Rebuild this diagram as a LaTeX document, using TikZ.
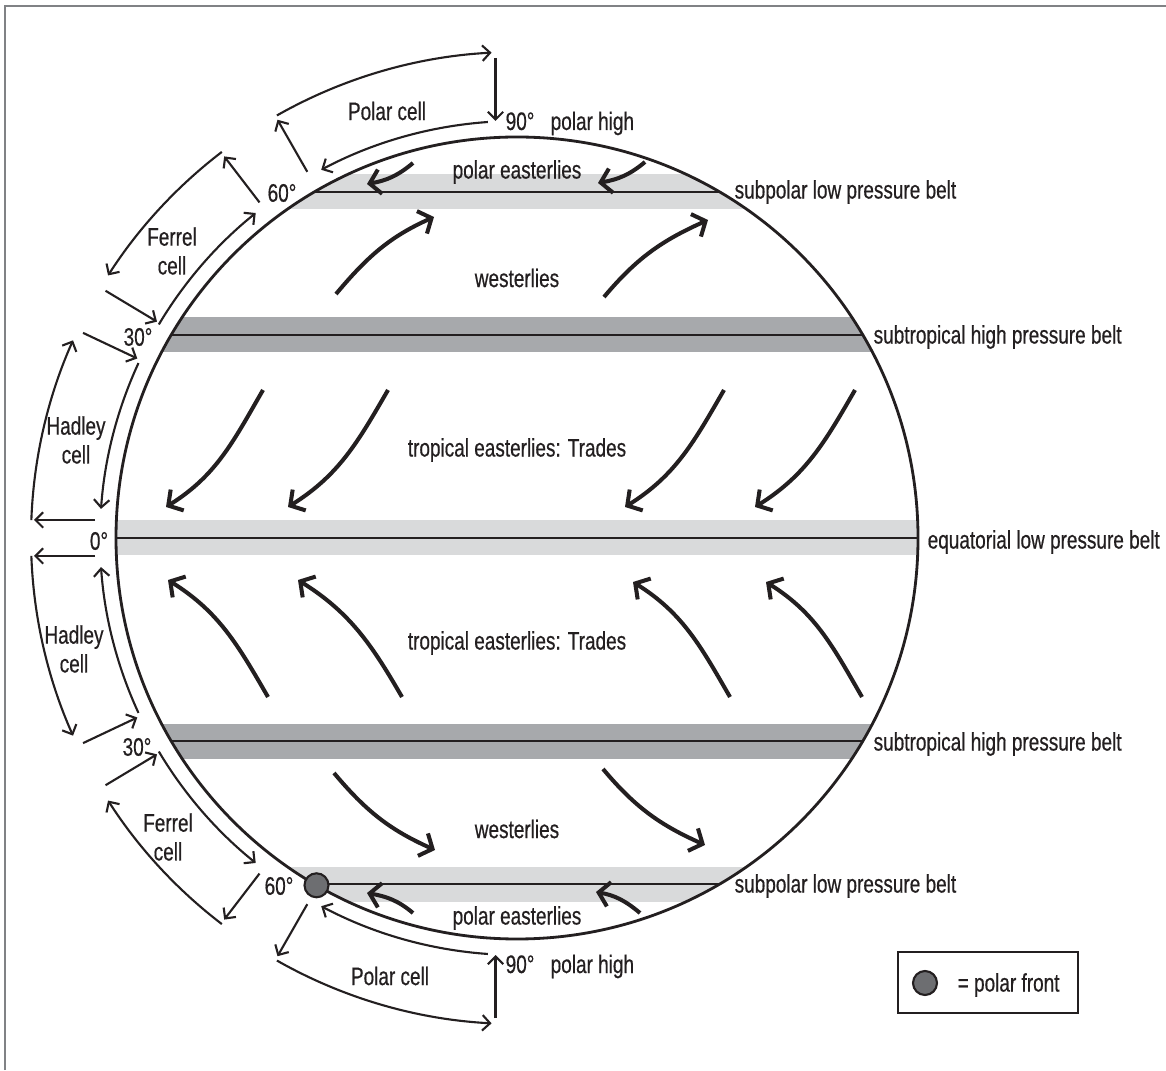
\documentclass[tikz,border=0pt]{standalone}
\usepackage{fontspec}
\setmainfont{Liberation Sans}[FakeStretch=0.75, FakeBold=0.5]
\usepackage{tikz}
\usetikzlibrary{calc, math, arrows.meta}

\definecolor{ink}{RGB}{35,31,32}
\definecolor{beltlight}{RGB}{217,218,219}
\definecolor{beltdark}{RGB}{167,169,172}
\definecolor{frontgray}{RGB}{109,110,113}
\definecolor{framegray}{RGB}{128,130,133}

\tikzset{
    cellarrow/.style={ink, line width=0.6pt, -{Straight Barb[length=2.2pt, width=4.4pt]}},
    wind/.style={ink, line width=1.15pt, -{Straight Barb[length=3pt, width=7pt]}},
    belttext/.style={anchor=west, inner sep=0pt},
    front/.style={circle, draw=ink, fill=frontgray, line width=0.6pt, minimum size=2.4mm, inner sep=0pt},
}

\begin{document}
\begin{tikzpicture}[x=0.1mm, y=0.1mm, font=\fontsize{7.2}{8.2}\selectfont, text=ink]
    \tikzmath{%
        \R=401;    % 地球
        \rin=417;  % 近地面气流
        \rout=486; % 高空气流
    }
    \useasboundingbox (0, 0) rectangle (1166, 1070);
    \coordinate (O) at (517, 532);
    % 边框
    \draw [framegray, line width=0.4pt] (5, 0) -- (5, 1064) -- (1166, 1064);
    % 气压带
    \begin{scope}
        \clip (O) circle [radius=\R];
        \foreach \yy/\col in {346/beltlight, 203/beltdark, 0/beltlight, -203/beltdark, -346/beltlight} {
            \fill [\col] ($(O) + (-\R, \yy - 17.5)$) rectangle ($(O) + (\R, \yy + 17.5)$);
            \draw [ink, line width=0.55pt] ($(O) + (-\R, \yy)$) -- ($(O) + (\R, \yy)$);
        }
    \end{scope}
    \draw [ink, line width=0.8pt] (O) circle [radius=\R];
    \node [front] (frontS) at ($(O) + (240:\R)$) {};

    % 三圈环流
    \foreach \s in {1, -1} {
        \foreach \rad/\a/\b in {\rout/2.1/24, \rin/24.8/4, \rin/30.8/51.2, \rout/52.6/32.7, \rout/60.4/87, \rin/86/62}
            \draw [cellarrow] ($(O) + ({180-\s*\a}:\rad)$) arc [start angle={180-\s*\a}, end angle={180-\s*\b}, radius=\rad];
        \foreach \a/\p/\q in {25.3/480/420, 31/480/420, 52.5/423/481, 60.2/422/482}
            \draw [cellarrow] ($(O) + ({180-\s*\a}:\p)$) -- ($(O) + ({180-\s*\a}:\q)$);
        \draw [cellarrow] ($(O) + (-422, \s*18)$) -- ($(O) + (-483, \s*18)$);
        \draw [cellarrow] ($(O) + (-21.5, \s*480)$) -- ($(O) + (-21.5, \s*417)$);
    }

    % 风带
    \foreach \ax/\ay/\bx/\by in {263/680/166/563, 388/680/288/563, 724/680/625/563, 855/680/755/563}
        \draw [wind] (\ax, \ay) to [out=240, in=32] (\bx, \by);
    \foreach \ax/\ay/\bx/\by in {268/373/168/490, 402/373/298/490, 730/373/633/488, 862/373/766/488}
        \draw [wind] (\ax, \ay) to [out=120, in=-32] (\bx, \by);
    \foreach \ax/\ay/\bx/\by in {336/776/434/853, 604/773/708/850}
        \draw [wind] (\ax, \ay) to [out=50, in=204] (\bx, \by);
    \foreach \ax/\ay/\bx/\by in {334/297/435/220, 603/301/705/225}
        \draw [wind] (\ax, \ay) to [out=-50, in=156] (\bx, \by);
    \foreach \ax/\ay/\bx/\by in {413/907/367/886, 645/908/598/887}
        \draw [wind] (\ax, \ay) to [out=220, in=10] (\bx, \by);
    \foreach \ax/\ay/\bx/\by in {413/157/367/177, 640/157/596/178}
        \draw [wind] (\ax, \ay) to [out=140, in=-10] (\bx, \by);

    % 风带名称
    \node (peN) at (517, 898) {polar easterlies};
    \node (weN) at (517, 792) {westerlies};
    \node (trN) at (517, 620) {tropical easterlies: Trades};
    \node (trS) at (517, 427) {tropical easterlies: Trades};
    \node (weS) at (517, 241) {westerlies};
    \node (peS) at (517, 152) {polar easterlies};

    % 气压带名称
    \node [belttext] (spN) at (734, 878) {subpolar low pressure belt};
    \node [belttext] (stN) at (873, 733) {subtropical high pressure belt};
    \node [belttext] (eq) at (927, 528) {equatorial low pressure belt};
    \node [belttext] (stS) at (873, 326) {subtropical high pressure belt};
    \node [belttext] (spS) at (734, 184) {subpolar low pressure belt};

    % 纬度与环流圈名称
    \node [anchor=base west, inner sep=0pt] (degN) at (505, 940) {90°};
    \node [anchor=base west, inner sep=0pt] (highN) at (550, 940) {polar high};
    \node [anchor=base west, inner sep=0pt] (degS) at (505, 97) {90°};
    \node [anchor=base west, inner sep=0pt] (highS) at (550, 97) {polar high};
    \node (latN60) at (282, 877) {60°};
    \node (latN30) at (138, 733) {30°};
    \node (lat0) at (99, 529) {0°};
    \node (latS30) at (137, 323) {30°};
    \node (latS60) at (279, 184) {60°};
    \node (polarN) at (387, 959) {Polar cell};
    \node [align=center] (ferrelN) at (172, 819) {Ferrel\\cell};
    \node [align=center] (hadleyN) at (76, 630) {Hadley\\cell};
    \node [align=center] (hadleyS) at (74, 421) {Hadley\\cell};
    \node [align=center] (ferrelS) at (168, 233) {Ferrel\\cell};
    \node (polarS) at (390, 94) {Polar cell};

    % 图例
    \draw [ink, line width=0.5pt] (898, 57) rectangle (1078, 118);
    \node [front] (frontkey) at (925, 87) {};
    \node [belttext] (frontlabel) at (957, 85) {= polar front};
\end{tikzpicture}
\end{document}
